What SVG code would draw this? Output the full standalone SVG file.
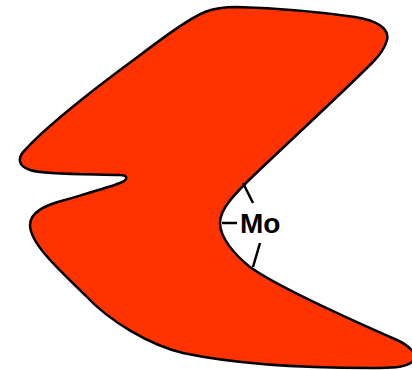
<svg xmlns="http://www.w3.org/2000/svg" width="412" height="370" viewBox="0 0 412 370">
<style>
.shape{fill:#FF3300;stroke:#000;stroke-width:2.5;stroke-linejoin:round}
.tick{stroke:#000;stroke-width:2.5;fill:none}
.lbl{font-family:"Liberation Sans",Arial,sans-serif;font-weight:bold;font-size:28px;fill:#000}
</style>
<rect width="412" height="370" fill="#fff"/>
<g id="shape">
<path class="shape" d="M 237,7 C 270,8 320,12 355,17 C 375,20 390,28 387,40 C 385,48 380,55 372,63 C 340,95 280,150 247,182 C 232,197 220,210 220,223 C 220,238 235,255 250,267 C 275,285 340,315 397,340 C 410,346 420,356 412,362 C 405,368 390,368 370,368 C 300,368 230,363 183,353 C 150,345 110,322 85,295 C 65,275 30,245 30,225 C 30,212 45,205 65,200 C 85,194 110,187 120,183 C 128,180 129,175 120,175 C 95,174 45,175 30,170 C 18,166 17,158 25,150 C 45,128 80,100 120,70 C 150,48 185,20 205,12 C 215,8 225,7 237,7 Z"/>
</g>
<g id="connectors">
<line class="tick" x1="243" y1="183" x2="253" y2="203"/>
<line class="tick" x1="222" y1="223" x2="237" y2="223"/>
<line class="tick" x1="260" y1="243" x2="253" y2="267"/>
</g>
<g id="label">
<text class="lbl" x="240" y="233">Mo</text>
</g>
</svg>
